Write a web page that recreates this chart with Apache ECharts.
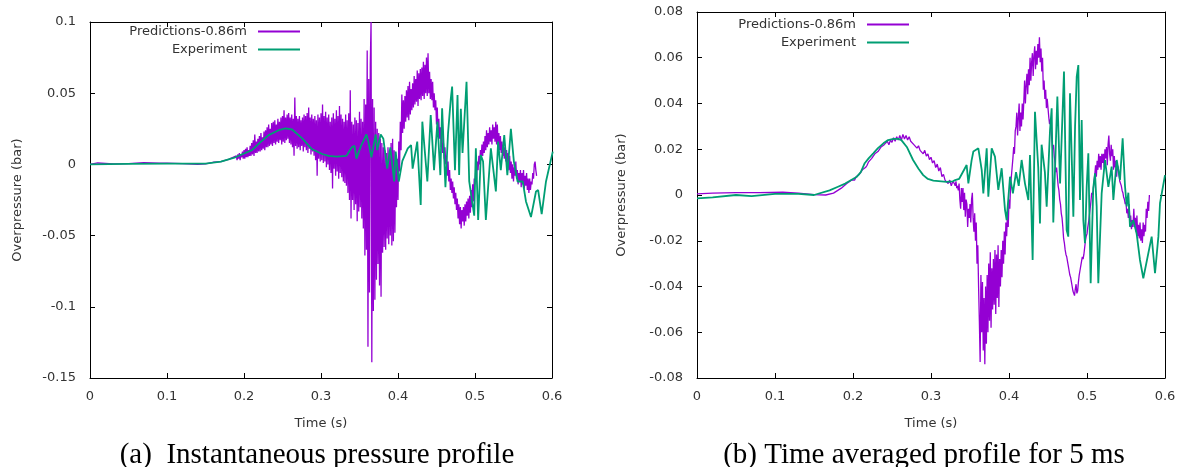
<!DOCTYPE html>
<html>
<head>
<meta charset="utf-8">
<script src="https://cdn.jsdelivr.net/npm/echarts@6/dist/echarts.min.js"></script>
<style>html,body{margin:0;padding:0;background:#fff;}#c{width:1183px;height:467px;}</style>
</head>
<body>
<div id="c"></div>
<script>
// ---------- Data ----------
const xTicks = [0, 0.1, 0.2, 0.3, 0.4, 0.5, 0.6];
const yTicksLeft = [-0.15, -0.1, -0.05, 0, 0.05, 0.1];
const yTicksRight = [-0.08, -0.06, -0.04, -0.02, 0, 0.02, 0.04, 0.06, 0.08];
const seriesNames = ['Predictions-0.86m', 'Experiment'];
const captions = ['(a)  Instantaneous pressure profile', '(b) Time averaged profile for 5 ms'];

// (a) predictions: smooth start (t, v) and noisy part sampled every 1 ms from 0.19 s
const predA_t = [0, 0.01, 0.03, 0.05, 0.07, 0.09, 0.1, 0.12, 0.14, 0.15, 0.16, 0.17, 0.18];
const predA_v = [0.0, 0.001, 0.0004, 0.0005, 0.0012, 0.0008, 0.0009, 0.0005, 0.0, 0.0003, 0.0015, 0.002, 0.0035];
const predA_noisyStart = 0.19, predA_noisyStep = 0.001;
const predA_noisy = [
  0.006,0.003,0.007,0.004,0.008,0.003,0.007,0.005,0.009,0.004,
  0.010,0.004,0.011,0.005,0.012,0.005,0.010,0.006,0.013,0.006,
  0.015,0.007,0.017,0.006,0.021,0.008,0.016,0.008,0.018,0.009,
  0.020,0.009,0.022,0.010,0.019,0.011,0.023,0.010,0.024,0.012,
  0.026,0.012,0.028,0.013,0.025,0.014,0.029,0.013,0.030,0.015,
  0.031,0.014,0.028,0.016,0.032,0.015,0.030,0.017,0.033,0.014,
  0.034,0.016,0.038,0.015,0.033,0.017,0.035,0.018,0.036,0.015,
  0.033,0.014,0.035,0.012,0.032,0.006,0.047,0.013,0.034,0.011,
  0.032,0.012,0.034,0.010,0.031,0.013,0.033,0.009,0.035,0.012,
  0.034,0.010,0.036,0.008,0.040,0.011,0.033,0.007,0.035,0.009,
  0.032,0.006,0.034,0.003,0.031,-0.008,0.035,0.004,0.033,0.002,
  0.036,0.003,0.042,0.001,0.034,0.002,0.037,-0.002,0.033,0.000,
  0.035,-0.004,0.030,-0.006,0.033,-0.017,0.036,-0.003,0.032,-0.008,
  0.038,-0.005,0.034,-0.010,0.041,-0.006,0.035,-0.009,0.032,-0.012,
  0.030,-0.013,0.035,-0.015,0.031,-0.020,0.036,-0.025,0.052,-0.038,
  0.030,-0.025,0.028,-0.032,0.033,-0.028,0.031,-0.040,0.029,-0.033,
  0.037,-0.030,0.032,-0.038,0.030,-0.045,0.046,-0.064,0.042,-0.060,
  0.080,-0.128,0.060,-0.090,0.070,0.100,-0.139,0.046,-0.103,0.040,
  -0.095,0.030,-0.081,0.025,-0.070,0.022,-0.085,0.018,-0.093,0.015,
  -0.062,0.012,-0.058,0.010,-0.060,0.008,-0.052,0.012,-0.056,0.010,
  -0.050,0.015,-0.057,0.018,-0.054,0.010,-0.048,0.006,-0.030,0.004,
  -0.025,0.016,-0.005,0.030,0.010,0.049,0.022,0.045,0.025,0.048,
  0.030,0.052,0.033,0.055,0.031,0.058,0.035,0.053,0.038,0.057,
  0.040,0.062,0.042,0.060,0.044,0.066,0.041,0.064,0.046,0.067,
  0.045,0.068,0.048,0.072,0.046,0.070,0.050,0.075,0.048,0.078,
  0.050,0.065,0.046,0.060,0.045,0.058,0.040,0.050,0.038,0.045,
  0.028,0.040,0.022,0.032,0.018,0.026,0.012,0.022,0.008,0.015,
  0.004,0.012,0.000,0.006,-0.008,0.002,-0.012,-0.004,-0.018,-0.010,
  -0.020,-0.012,-0.024,-0.016,-0.028,-0.020,-0.032,-0.024,-0.038,-0.028,
  -0.042,-0.030,-0.045,-0.032,-0.040,-0.030,-0.043,-0.028,-0.040,-0.026,
  -0.036,-0.024,-0.038,-0.022,-0.034,-0.018,-0.030,-0.014,-0.026,-0.010,
  -0.014,-0.004,-0.010,0.002,-0.004,0.006,0.000,0.010,0.004,0.014,
  0.006,0.016,0.008,0.020,0.010,0.024,0.012,0.022,0.014,0.026,
  0.016,0.024,0.014,0.028,0.018,0.026,0.016,0.030,0.014,0.028,
  0.012,0.022,0.010,0.020,0.008,0.016,0.006,0.014,0.004,0.012,
  0.002,0.010,0.000,0.008,-0.004,0.006,-0.006,0.002,-0.010,0.000,
  -0.012,-0.002,-0.008,0.002,-0.010,-0.004,-0.014,-0.006,-0.012,-0.004,
  -0.016,-0.006,-0.014,-0.004,-0.017,-0.008,-0.015,-0.006,-0.018,-0.010,
  -0.020,-0.010,-0.018,-0.012,-0.014,-0.006,-0.010,0.000,0.002,-0.004,
  -0.008
];

// (a) experiment
const expA_t = [0, 0.05, 0.1, 0.15, 0.17, 0.1887, 0.2104, 0.22, 0.232, 0.245, 0.2538, 0.2625, 0.2755, 0.2885, 0.3015, 0.31, 0.32, 0.333,
  0.34, 0.3435, 0.346, 0.352, 0.359, 0.3615, 0.3655, 0.371, 0.373, 0.3775, 0.381, 0.386, 0.39, 0.395, 0.397, 0.401,
  0.4057, 0.4127, 0.417, 0.419, 0.425, 0.4295, 0.4316, 0.4381, 0.4425, 0.4468, 0.4512, 0.455, 0.4573, 0.4616, 0.465,
  0.4686, 0.4703, 0.474, 0.4773, 0.4794, 0.4816, 0.4838, 0.489, 0.4925, 0.499, 0.5011, 0.5041, 0.5076, 0.5105, 0.5141,
  0.5206, 0.5271, 0.53, 0.5335, 0.538, 0.542, 0.5466, 0.5505, 0.5553, 0.562, 0.5662, 0.5727, 0.5792, 0.582, 0.5866, 0.5922, 0.601];
const expA_v = [0.0, 0.0003, 0.0006, 0.0006, 0.002, 0.005, 0.010, 0.015, 0.0206, 0.024, 0.0253, 0.0245, 0.0183, 0.0106, 0.0073, 0.006, 0.0055, 0.006,
  0.012, 0.013, 0.004, 0.013, 0.021, 0.016, 0.005, 0.021, 0.010, 0.021, 0.018, -0.003, 0.012, -0.012, 0.009, -0.012,
  0.0025, 0.0113, 0.0136, -0.003, 0.016, -0.0285, 0.030, -0.012, 0.0347, -0.004, 0.030, -0.0075, 0.0394, -0.016, 0.022,
  0.0464, 0.0546, -0.004, 0.0488, -0.0075, 0.039, 0.008, 0.058, -0.012, -0.036, 0.0113, -0.039, 0.0066, 0.002, -0.039,
  0.0113, -0.019, 0.016, -0.004, 0.0206, -0.0075, 0.025, 0.002, -0.012, -0.012, -0.026, -0.037, -0.019, -0.018, -0.035, -0.012, 0.009];

// (b) predictions: smooth start, light-noise part every 2 ms from 0.20 s, strong-noise part every 1 ms from 0.33 s
const predB_t = [0, 0.02, 0.05, 0.08, 0.11, 0.13, 0.15, 0.165, 0.175, 0.185, 0.192, 0.198];
const predB_v = [0.0005, 0.0008, 0.001, 0.001, 0.0012, 0.0008, 0.0002, 0.0, 0.0008, 0.003, 0.005, 0.0065];
const predB_midStart = 0.2, predB_midStep = 0.002;
const predB_mid = [
  0.007,0.0065,0.008,0.0075,0.009,0.0085,0.011,0.0105,0.012,0.013,
  0.0145,0.015,0.016,0.0165,0.018,0.0175,0.019,0.0195,0.021,0.0205,
  0.022,0.0215,0.0235,0.022,0.024,0.023,0.025,0.0235,0.0255,0.024,
  0.026,0.024,0.0265,0.0245,0.026,0.024,0.0255,0.0235,0.024,0.022,
  0.0225,0.0205,0.0215,0.0195,0.020,0.018,0.0195,0.017,0.018,0.0155,
  0.0165,0.014,0.015,0.012,0.0135,0.0105,0.012,0.008,0.009,0.0065,
  0.007,0.005,0.0065,0.004,0.006
];
const predB_lateStart = 0.33, predB_lateStep = 0.001;
const predB_late = [
  0.005,0.004,0.006,0.003,0.004,0.002,0.005,-0.002,-0.006,0.003,
  -0.003,0.003,-0.0066,0.001,-0.0095,-0.002,-0.004,-0.014,-0.006,-0.010,
  -0.004,-0.012,-0.002,0.001,-0.010,-0.016,-0.008,-0.020,-0.012,-0.030,
  -0.022,-0.040,-0.055,-0.073,-0.035,-0.060,-0.038,-0.068,-0.045,-0.074,
  -0.040,-0.065,-0.035,-0.060,-0.030,-0.055,-0.025,-0.058,-0.032,-0.050,
  -0.028,-0.048,-0.024,-0.052,-0.026,-0.045,-0.022,-0.049,-0.028,-0.040,
  -0.024,-0.036,-0.020,-0.030,-0.016,-0.026,-0.012,-0.018,-0.008,-0.014,
  -0.002,-0.006,0.004,0.008,0.012,0.016,0.021,0.018,0.028,0.030,
  0.036,0.026,0.034,0.040,0.028,0.036,0.030,0.040,0.033,0.041,
  0.050,0.040,0.048,0.053,0.044,0.055,0.048,0.060,0.050,0.058,
  0.062,0.052,0.061,0.065,0.055,0.063,0.057,0.066,0.060,0.069,
  0.058,0.064,0.054,0.060,0.046,0.050,0.042,0.046,0.038,0.042,
  0.038,0.034,0.031,0.033,0.028,0.024,0.020,0.022,0.017,0.014,
  0.010,0.012,0.008,0.004,0.002,-0.002,-0.004,-0.008,-0.010,-0.014,
  -0.019,-0.021,-0.024,-0.026,-0.027,-0.029,-0.031,-0.033,-0.035,-0.036,
  -0.038,-0.040,-0.042,-0.043,-0.044,-0.041,-0.039,-0.043,-0.042,-0.038,
  -0.035,-0.033,-0.031,-0.029,-0.027,-0.028,-0.026,-0.023,-0.020,-0.018,
  -0.017,-0.014,-0.012,-0.009,-0.006,-0.003,0.001,0.000,0.002,0.006,
  0.009,0.013,0.008,0.015,0.011,0.018,0.012,0.017,0.011,0.018,
  0.014,0.018,0.012,0.020,0.016,0.021,0.013,0.022,0.026,0.018,
  0.015,0.022,0.017,0.020,0.011,0.017,0.012,0.015,0.008,0.013,
  0.012,0.009,0.006,0.005,0.004,0.002,0.001,-0.001,-0.002,-0.004,
  -0.003,-0.008,-0.006,-0.010,-0.004,-0.012,-0.009,-0.015,-0.011,-0.014,
  -0.006,-0.013,-0.010,-0.016,-0.009,-0.018,-0.013,-0.019,-0.012,-0.020,
  -0.015,-0.021,-0.012,-0.018,-0.013,-0.016,-0.006,-0.010,-0.003,-0.007,
  0.000
];

// (b) experiment
const expB_t = [0, 0.02, 0.05, 0.07, 0.1, 0.13, 0.15, 0.17, 0.18, 0.19, 0.2, 0.205, 0.21, 0.215, 0.22, 0.226, 0.232, 0.239, 0.245,
  0.252, 0.258, 0.262, 0.269, 0.277, 0.284, 0.29, 0.296, 0.303, 0.32, 0.328, 0.331, 0.336, 0.34, 0.3457, 0.3479, 0.352,
  0.3543, 0.3607, 0.365, 0.3671, 0.3714, 0.3735, 0.3778, 0.382, 0.3863, 0.3906, 0.3949, 0.397, 0.4013, 0.405, 0.409, 0.4125,
  0.4162, 0.4205, 0.4248, 0.4269, 0.4303, 0.4333, 0.4375, 0.4397, 0.4418, 0.446, 0.4483, 0.4526, 0.4547, 0.4568, 0.462, 0.4655,
  0.4705, 0.4739, 0.476, 0.4782, 0.4825, 0.4847, 0.4868, 0.4889, 0.491, 0.4932, 0.4953, 0.4974, 0.4996, 0.5017, 0.5047,
  0.508, 0.5103, 0.5124, 0.5145, 0.5188, 0.5231, 0.5274, 0.5316, 0.5338, 0.5381, 0.5423, 0.5457, 0.5487, 0.5509, 0.553,
  0.5551, 0.5594, 0.5636, 0.5679, 0.5722, 0.5829, 0.5872, 0.5915, 0.5936, 0.6];
const expB_v = [-0.0015, -0.001, 0.0, -0.0005, 0.0005, 0.0005, 0.0, 0.002, 0.0035, 0.005, 0.007, 0.008, 0.010, 0.0139, 0.016, 0.0182, 0.0205, 0.0226, 0.024,
  0.0245, 0.0245, 0.024, 0.021, 0.0153, 0.0115, 0.0087, 0.007, 0.0063, 0.0057, 0.006, 0.0065, 0.007, 0.0095, 0.0131, 0.0051, 0.015,
  0.019, 0.0204, 0.011, 0.0007, 0.0204, -0.0007, 0.0204, 0.0168, 0.0022, 0.0117, -0.0066, -0.011, 0.008, 0.0007, 0.010, 0.004,
  0.0153, 0.005, -0.0022, 0.0175, -0.0284, 0.0364, 0.012, -0.0124, 0.022, 0.010, -0.0051, 0.0284, 0.0379, -0.012, 0.043, 0.005,
  0.054, -0.0153, -0.0182, 0.0445, -0.0095, 0.030, 0.0517, 0.0568, -0.0022, 0.0328, -0.011, -0.0211, 0.0036, 0.0182, -0.0386,
  0.003, 0.0095, -0.0051, -0.0386, 0.0007, 0.0153, 0.0036, 0.0124, -0.0022, 0.0153, 0.0066, 0.0248, 0.004, -0.005, 0.001,
  -0.0139, -0.011, -0.0168, -0.0284, -0.0364, -0.0182, -0.0342, -0.0182, -0.0036, 0.0087];

// ---------- Build series data ----------
function pairs(ts, vs) { return ts.map((t, i) => [t, vs[i]]); }
function sampled(start, step, vs) { return vs.map((v, i) => [+(start + i * step).toFixed(4), v]); }
const predA = pairs(predA_t, predA_v).concat(sampled(predA_noisyStart, predA_noisyStep, predA_noisy));
const expA = pairs(expA_t, expA_v);
const predB = pairs(predB_t, predB_v)
  .concat(sampled(predB_midStart, predB_midStep, predB_mid))
  .concat(sampled(predB_lateStart, predB_lateStep, predB_late));
const expB = pairs(expB_t, expB_v);

// ---------- Chart ----------
const FONT = 'DejaVu Sans';
const TXT = '#333';
const PURPLE = '#9400d3';
const GREEN = '#009e73';

const grids = [
  { left: 90, top: 22, width: 462, height: 356 },
  { left: 697, top: 12, width: 468, height: 366 }
];
const yTickSets = [yTicksLeft, yTicksRight];

const xAxes = [], yAxes = [];
grids.forEach((g, gi) => {
  const yt = yTickSets[gi];
  const base = {
    type: 'value', gridIndex: gi,
    axisLine: { show: true, onZero: false, lineStyle: { color: '#000', width: 1 } },
    axisTick: { show: true, inside: true, length: 5, lineStyle: { color: '#000' } },
    splitLine: { show: false }
  };
  const xr = { min: xTicks[0], max: xTicks[xTicks.length - 1], interval: xTicks[1] - xTicks[0] };
  const yr = { min: yt[0], max: yt[yt.length - 1], interval: +(yt[1] - yt[0]).toFixed(4) };
  xAxes.push(Object.assign({}, base, xr, {
    position: 'bottom',
    name: 'Time (s)', nameLocation: 'middle', nameGap: 39,
    nameTextStyle: { fontFamily: FONT, fontSize: 13, color: TXT },
    axisLabel: { fontFamily: FONT, fontSize: 13, color: TXT, margin: 12 }
  }));
  xAxes.push(Object.assign({}, base, xr, { position: 'top', axisLabel: { show: false } }));
  yAxes.push(Object.assign({}, base, yr, {
    position: 'left',
    name: 'Overpressure (bar)', nameLocation: 'middle', nameGap: gi === 0 ? 66 : 69,
    nameTextStyle: { fontFamily: FONT, fontSize: 13, color: TXT },
    axisLabel: { fontFamily: FONT, fontSize: 13, color: TXT, margin: 14 }
  }));
  yAxes.push(Object.assign({}, base, yr, { position: 'right', axisLabel: { show: false } }));
});

function lineSeries(name, data, gi, color, width) {
  return {
    name: name, type: 'line', data: data,
    xAxisIndex: gi * 2, yAxisIndex: gi * 2,
    showSymbol: false, symbol: 'none', clip: true,
    lineStyle: { color: color, width: width }, itemStyle: { color: color },
    animation: false
  };
}

function legend(name, right, top) {
  return {
    data: [name], right: right, top: top, padding: 0,
    align: 'right', orient: 'vertical', selectedMode: false,
    icon: 'rect', itemWidth: 42, itemHeight: 2,
    textStyle: { fontFamily: FONT, fontSize: 13, color: TXT, padding: [0, 6, 0, 0] }
  };
}

const chart = echarts.init(document.getElementById('c'), null, { renderer: 'canvas' });
chart.setOption({
  animation: false,
  backgroundColor: '#fff',
  grid: grids,
  xAxis: xAxes,
  yAxis: yAxes,
  legend: [
    legend(seriesNames[0], 883, 25),
    legend(seriesNames[1], 883, 43),
    legend(seriesNames[0], 274, 18),
    legend(seriesNames[1], 274, 36)
  ],
  graphic: [
    { type: 'text', x: 317, y: 455, style: { text: captions[0], fontFamily: 'Liberation Serif', fontSize: 29, fill: '#000', align: 'center', verticalAlign: 'middle' } },
    { type: 'text', x: 924, y: 455, style: { text: captions[1], fontFamily: 'Liberation Serif', fontSize: 29, fill: '#000', align: 'center', verticalAlign: 'middle' } }
  ],
  series: [
    lineSeries(seriesNames[0], predA, 0, PURPLE, 1.3),
    lineSeries(seriesNames[1], expA, 0, GREEN, 1.8),
    lineSeries(seriesNames[0], predB, 1, PURPLE, 1.3),
    lineSeries(seriesNames[1], expB, 1, GREEN, 1.8)
  ]
});
</script>
</body>
</html>
